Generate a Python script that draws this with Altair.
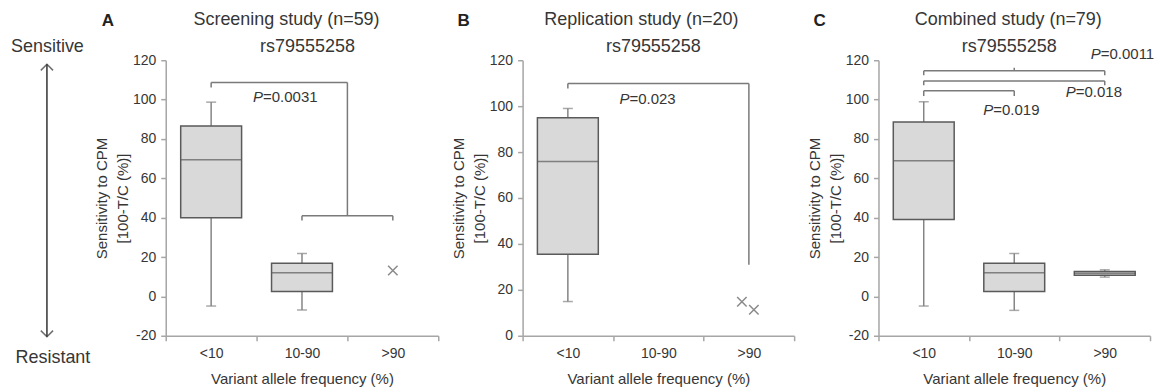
import altair as alt
import pandas as pd

FONT = "Liberation Sans"
TXT = "#363636"
AX = "#a6a6a6"
BOX_FILL = "#d9d9d9"
BOX_LINE = "#5a5a5a"
WHISK = "#858585"
BRK = "#7a7a7a"

categories = ["<10", "10-90", ">90"]
y_ticks_full = [-20, 0, 20, 40, 60, 80, 100, 120]
y_ticks_b = [0, 20, 40, 60, 80, 100, 120]

# ---- Panel A : screening study
a_box_cat = ["<10", "10-90"]
a_low = [-4.9, -6.9]
a_q1 = [40.0, 2.5]
a_med = [69.4, 12.0]
a_q3 = [86.6, 16.9]
a_high = [98.7, 21.8]
a_pt_cat = [">90"]
a_pt_val = [13.2]
a_seg_x1 = ["<10", "10-90", ">90", "10-90"]
a_seg_x2 = ["<10", "10-90", ">90", ">90"]
a_seg_y1 = [106.2, 38.6, 38.6, 41.0]
a_seg_y2 = [108.7, 41.0, 41.0, 41.0]
a_p_text = ["=0.0031"]
a_p_cat = ["10-90"]
a_p_dx = [-39]
a_p_y = [101.3]

# ---- Panel B : replication study
b_box_cat = ["<10"]
b_low = [14.9]
b_q1 = [35.5]
b_med = [75.9]
b_q3 = [94.9]
b_high = [99.0]
b_pt_cat = [">90", ">90"]
b_pt_val = [14.8, 11.3]
b_seg_x1 = ["<10", "<10", ">90"]
b_seg_x2 = ["<10", ">90", ">90"]
b_seg_y1 = [107.7, 109.9, 30.9]
b_seg_y2 = [109.9, 109.9, 109.9]
b_p_text = ["=0.023"]
b_p_cat = ["10-90"]
b_p_dx = [-29]
b_p_y = [103.3]

# ---- Panel C : combined study
c_box_cat = ["<10", "10-90", ">90"]
c_low = [-4.9, -7.1, 9.8]
c_q1 = [39.1, 2.5, 10.8]
c_med = [68.9, 12.0, 11.8]
c_q3 = [88.6, 16.9, 12.6]
c_high = [98.9, 21.8, 13.5]
c_seg_x1 = ["<10", ">90", "<10", "10-90", "<10", ">90", "<10", "<10", "10-90", "<10"]
c_seg_x2 = ["<10", ">90", ">90", "10-90", "<10", ">90", ">90", "<10", "10-90", "10-90"]
c_seg_y1 = [112.4, 112.4, 114.6, 114.6, 107.3, 107.3, 109.5, 101.8, 101.8, 104.5]
c_seg_y2 = [114.6, 114.6, 114.6, 116.2, 109.5, 109.5, 109.5, 104.5, 104.5, 104.5]
c_p_text = ["=0.0011", "=0.018", "=0.019"]
c_p_cat = [">90", ">90", "10-90"]
c_p_dx = [-4, -29, -21]
c_p_y = [123.0, 103.8, 94.7]

side_labels = ["Sensitive", "Resistant"]
y_title = ["Sensitivity to CPM", "[100-T/C (%)]"]
x_title = "Variant allele frequency (%)"

H = 276


def panel(width, ydom, yticks, box, pts, seg, ptxt, letter, t1, t2, tpos, extra=None):
    half = width / 6.0
    xs = alt.Scale(domain=categories, paddingInner=0, paddingOuter=0)
    ys = alt.Scale(domain=ydom, nice=False, zero=False)
    xax = alt.Axis(title=x_title, labelAngle=0, tickBand="extent", labelFontSize=14,
                   labelPadding=6, tickSize=5, titleFontSize=15, titleY=43,
                   titleBaseline="middle", titleFontWeight="normal")
    yax = alt.Axis(title=y_title, values=yticks, grid=False, labelFontSize=14,
                   labelOverlap=False, labelExpr="'' + datum.value", tickCount=len(yticks),
                   tickSize=5, labelPadding=5, titleFontSize=15, titleLineHeight=21,
                   titleAngle=-90, titleX=-64, titleY=H / 2, titleAlign="center",
                   titleBaseline="middle", titleFontWeight="normal")

    def XF(field):
        return alt.X(field, type="nominal", scale=xs, axis=xax)

    def YF(field):
        return alt.Y(field, type="quantitative", scale=ys, axis=yax)

    X = XF("cat")
    base_box = alt.Chart(box)
    whisk = base_box.mark_rule(color=WHISK, strokeWidth=1.5).encode(
        x=X, y=YF("low"), y2="high:Q")
    caps_lo = base_box.mark_tick(color=WHISK, size=10, thickness=1.5).encode(
        x=X, y=YF("low"))
    caps_hi = base_box.mark_tick(color=WHISK, size=10, thickness=1.5).encode(
        x=X, y=YF("high"))
    bars = base_box.mark_bar(size=61, fill=BOX_FILL, stroke=BOX_LINE, strokeWidth=1.5).encode(
        x=X, y=YF("q1"), y2="q3:Q")
    med = base_box.mark_tick(color=BOX_LINE, size=61, thickness=1.5).encode(
        x=X, y=YF("med"))
    layers = [whisk, caps_lo, caps_hi, bars, med]
    if pts is not None:
        offs = [-7, 5] if len(pts) > 1 else [0]
        for i in range(len(pts)):
            layers.append(alt.Chart(pts.iloc[[i]]).mark_point(
                shape="M-1,-1L1,1M-1,1L1,-1", size=90, filled=False,
                stroke=BOX_LINE, strokeWidth=1.5, xOffset=offs[i]).encode(
                x=X, y=YF("val")))
    layers.append(alt.Chart(seg).mark_rule(color=BRK, strokeWidth=1.5).encode(
        x=XF("x1"), x2="x2:N", y=YF("y1"), y2="y2:Q"))
    if extra is not None:
        # panel A: bracket joining to the gap between 10-90 and >90
        e1 = pd.DataFrame({"cat": ["<10"], "cat2": ["10-90"], "y1": [108.7]})
        layers.append(alt.Chart(e1).mark_rule(color=BRK, strokeWidth=1.5, x2Offset=half).encode(
            x=X, x2="cat2:N", y=YF("y1")))
        e2 = pd.DataFrame({"cat": ["10-90"], "y1": [108.7], "y2": [41.0]})
        layers.append(alt.Chart(e2).mark_rule(color=BRK, strokeWidth=1.5, xOffset=half).encode(
            x=X, y=YF("y1"), y2="y2:Q"))
    for i in range(len(ptxt)):
        row = ptxt.iloc[[i]]
        dx = float(row["dx"].iloc[0])
        layers.append(alt.Chart(row).mark_text(
            text="P", font=FONT, fontSize=15, fontStyle="italic", color=TXT,
            align="right", baseline="middle", dx=dx).encode(
            x=X, y=YF("y")))
        layers.append(alt.Chart(row).mark_text(
            font=FONT, fontSize=15, color=TXT, align="left", baseline="middle", dx=dx).encode(
            x=X, y=YF("y"), text="t:N"))
    tdf = pd.DataFrame({"t": [letter, t1, t2]})
    layers.append(alt.Chart(tdf.iloc[[0]]).mark_text(
        font=FONT, fontSize=17, fontWeight="bold", color="#222", baseline="middle").encode(
        text="t:N", x=alt.value(tpos[0][0]), y=alt.value(tpos[0][1])))
    layers.append(alt.Chart(tdf.iloc[[1]]).mark_text(
        font=FONT, fontSize=18, color=TXT, baseline="middle").encode(
        text="t:N", x=alt.value(tpos[1][0]), y=alt.value(tpos[1][1])))
    layers.append(alt.Chart(tdf.iloc[[2]]).mark_text(
        font=FONT, fontSize=18, color=TXT, baseline="middle").encode(
        text="t:N", x=alt.value(tpos[2][0]), y=alt.value(tpos[2][1])))
    if extra is not None:
        sdf = pd.DataFrame({"t": side_labels})
        layers.append(alt.Chart(sdf.iloc[[0]]).mark_text(
            font=FONT, fontSize=18, color=TXT, baseline="middle").encode(
            text="t:N", x=alt.value(-118.5), y=alt.value(-13)))
        layers.append(alt.Chart(sdf.iloc[[1]]).mark_text(
            font=FONT, fontSize=18, color=TXT, baseline="middle").encode(
            text="t:N", x=alt.value(-113), y=alt.value(298)))
        layers.append(alt.Chart(sdf.iloc[[0]]).mark_rule(color="#333", strokeWidth=1.5).encode(
            x=alt.value(-119), y=alt.value(4), y2=alt.value(277)))
        layers.append(alt.Chart(sdf.iloc[[0]]).mark_point(
            shape="M-1,1L0,0L1,1", size=150, filled=False, stroke="#333", strokeWidth=1.5).encode(
            x=alt.value(-119), y=alt.value(4)))
        layers.append(alt.Chart(sdf.iloc[[0]]).mark_point(
            shape="M-1,-1L0,0L1,-1", size=150, filled=False, stroke="#333", strokeWidth=1.5).encode(
            x=alt.value(-119), y=alt.value(277)))
    return alt.layer(*layers).properties(width=width, height=H)


def boxdf(c, lo, q1, md, q3, hi):
    return pd.DataFrame({"cat": c, "low": lo, "q1": q1, "med": md, "q3": q3, "high": hi})


def segdf(x1, x2, y1, y2):
    return pd.DataFrame({"x1": x1, "x2": x2, "y1": y1, "y2": y2})


def pdf(t, c, dx, y):
    return pd.DataFrame({"t": t, "cat": c, "dx": dx, "y": y})


pA = panel(273, [-20, 120], y_ticks_full,
           boxdf(a_box_cat, a_low, a_q1, a_med, a_q3, a_high),
           pd.DataFrame({"cat": a_pt_cat, "val": a_pt_val}),
           segdf(a_seg_x1, a_seg_x2, a_seg_y1, a_seg_y2),
           pdf(a_p_text, a_p_cat, a_p_dx, a_p_y),
           "A", "Screening study (n=59)", "rs79555258",
           [(-58, -39), (121, -40), (142, -13)], extra=True)
pB = panel(272, [0, 120], y_ticks_b,
           boxdf(b_box_cat, b_low, b_q1, b_med, b_q3, b_high),
           pd.DataFrame({"cat": b_pt_cat, "val": b_pt_val}),
           segdf(b_seg_x1, b_seg_x2, b_seg_y1, b_seg_y2),
           pdf(b_p_text, b_p_cat, b_p_dx, b_p_y),
           "B", "Replication study (n=20)", "rs79555258",
           [(-59, -39), (119, -40), (131, -13)])
pC = panel(272, [-20, 120], y_ticks_full,
           boxdf(c_box_cat, c_low, c_q1, c_med, c_q3, c_high),
           None,
           segdf(c_seg_x1, c_seg_x2, c_seg_y1, c_seg_y2),
           pdf(c_p_text, c_p_cat, c_p_dx, c_p_y),
           "C", "Combined study (n=79)", "rs79555258",
           [(-59, -39), (130, -40), (131, -13)])

chart = alt.hconcat(pA, pB, pC, spacing=84.5, bounds="flush").properties(
    padding={"left": 2, "top": 3, "right": 0, "bottom": 0},
    background="white",
).configure_view(stroke=None).configure_axis(
    domainColor=AX, domainWidth=1.5, tickColor=AX, tickWidth=1.5,
    labelColor=TXT, titleColor=TXT, labelFont=FONT, titleFont=FONT,
).configure_text(font=FONT)

chart.save("out.html", embed_options={"renderer": "svg", "actions": False})
